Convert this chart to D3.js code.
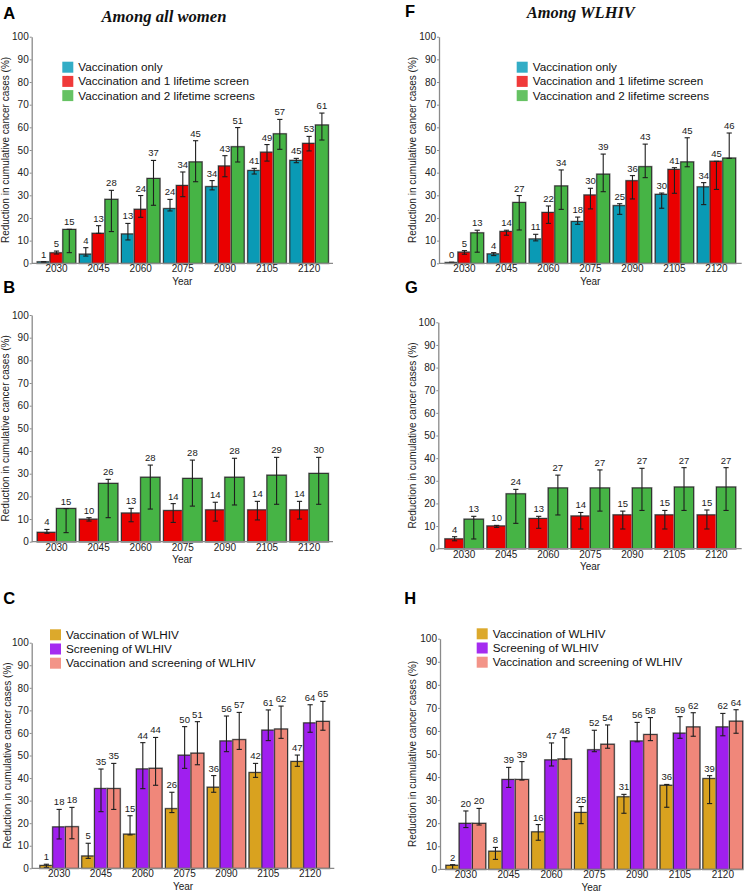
<!DOCTYPE html>
<html>
<head>
<meta charset="utf-8">
<script src="https://cdn.jsdelivr.net/npm/d3@7"></script>
<style>
  body { margin: 0; background: #fff; }
  svg { display: block; }
</style>
</head>
<body>
<svg id="chart" width="750" height="892"></svg>
<script>
// ---------------- DATA ----------------
const years = ["2030", "2045", "2060", "2075", "2090", "2105", "2120"];
const yTickValues = [0, 10, 20, 30, 40, 50, 60, 70, 80, 90, 100];

const titleAll = "Among all women";
const titleHIV = "Among WLHIV";
const legendScreens = ["Vaccination only", "Vaccination and 1 lifetime screen", "Vaccination and 2 lifetime screens"];
const legendWLHIV = ["Vaccination of WLHIV", "Screening of WLHIV", "Vaccination and screening of WLHIV"];

// Panel A: among all women
const aVacc     = [0.6, 4.0, 12.9, 24.1, 33.8, 40.9, 45.4];
const aVaccLo   = [0.4, 3.2, 10.3, 23.1, 32.4, 39.4, 44.4];
const aVaccHi   = [0.7, 6.9, 17.6, 28.2, 36.5, 41.9, 46.3];
const aScr1     = [4.6, 13.2, 23.8, 34.3, 42.9, 49.0, 52.9];
const aScr1Lo   = [4.1, 13.2, 20.3, 29.4, 38.2, 45.1, 49.6];
const aScr1Hi   = [5.4, 16.6, 29.9, 40.3, 47.5, 52.4, 56.0];
const aScr2     = [14.9, 28.2, 37.4, 44.7, 51.4, 57.1, 61.0];
const aScr2Lo   = [4.7, 14.0, 25.6, 36.0, 44.7, 50.3, 54.4];
const aScr2Hi   = [15.0, 32.2, 45.4, 54.1, 59.9, 63.5, 66.3];

// Panel F: among WLHIV
const fVacc     = [0.3, 4.1, 10.7, 18.4, 25.4, 30.4, 33.7];
const fVaccLo   = [0.2, 3.4, 9.9, 17.2, 21.6, 24.3, 25.9];
const fVaccHi   = [0.5, 4.7, 12.8, 20.4, 26.3, 31.0, 35.6];
const fScr1     = [4.9, 14.0, 22.4, 30.1, 36.4, 41.4, 45.0];
const fScr1Lo   = [4.0, 12.4, 17.6, 24.0, 28.4, 30.9, 32.6];
const fScr1Hi   = [5.6, 14.6, 25.3, 33.1, 38.7, 42.2, 45.0];
const fScr2     = [13.4, 26.8, 34.1, 39.3, 42.6, 44.7, 46.4];
const fScr2Lo   = [4.9, 14.7, 23.8, 31.6, 37.8, 42.6, 46.3];
const fScr2Hi   = [14.6, 29.9, 41.2, 48.2, 52.6, 55.4, 57.5];

// Panel B: among all women (screening added)
const bScr1     = [4.1, 9.9, 12.6, 13.7, 14.0, 14.0, 14.0];
const bScr1Lo   = [3.7, 9.1, 8.8, 8.5, 9.1, 9.6, 10.0];
const bScr1Hi   = [5.4, 10.6, 14.7, 16.8, 17.4, 17.8, 17.8];
const bScr2     = [14.6, 25.7, 28.4, 27.9, 28.4, 29.3, 30.1];
const bScr2Lo   = [4.0, 10.6, 14.4, 15.7, 16.2, 16.5, 16.5];
const bScr2Hi   = [14.6, 27.5, 33.8, 36.0, 36.8, 37.2, 37.2];

// Panel G: among WLHIV (screening added)
const gScr1     = [4.3, 10.0, 13.3, 14.4, 14.9, 14.9, 14.9];
const gScr1Lo   = [3.5, 9.4, 9.0, 8.7, 8.7, 8.7, 8.7];
const gScr1Hi   = [5.3, 10.3, 14.3, 16.0, 16.6, 16.9, 17.1];
const gScr2     = [13.0, 24.2, 26.8, 26.8, 26.8, 27.2, 27.2];
const gScr2Lo   = [4.3, 11.2, 14.9, 16.6, 16.9, 16.9, 16.9];
const gScr2Hi   = [14.3, 26.2, 32.5, 34.8, 35.5, 35.8, 35.8];

// Panel C: among all women, WLHIV-targeted interventions
const cVacc     = [1.2, 5.4, 15.1, 26.4, 35.9, 42.4, 47.3];
const cVaccLo   = [0.4, 4.4, 14.8, 24.7, 33.7, 40.3, 45.2];
const cVaccHi   = [1.8, 11.1, 23.3, 33.7, 41.1, 46.5, 50.2];
const cScr      = [18.3, 35.3, 44.0, 50.1, 56.4, 61.2, 64.4];
const cScrLo    = [13.0, 25.1, 35.3, 44.3, 51.7, 56.6, 60.3];
const cScrHi    = [26.1, 44.0, 55.7, 62.8, 67.5, 70.2, 72.5];
const cBoth     = [18.4, 35.3, 44.3, 51.0, 57.0, 61.7, 65.1];
const cBothLo   = [13.1, 26.1, 36.8, 45.9, 52.7, 57.6, 61.2];
const cBothHi   = [27.0, 46.5, 58.0, 65.0, 69.1, 71.9, 74.0];

// Panel H: among WLHIV, WLHIV-targeted interventions
const hVacc     = [1.7, 7.8, 16.2, 24.6, 31.4, 36.4, 39.3];
const hVaccLo   = [0.0, 4.3, 12.6, 19.8, 24.3, 26.9, 28.5];
const hVaccHi   = [2.0, 9.5, 19.4, 27.2, 32.5, 36.8, 40.6];
const hScr      = [19.9, 38.9, 47.4, 51.8, 55.6, 59.0, 61.7];
const hScrLo    = [18.1, 35.5, 44.8, 51.0, 55.3, 56.8, 57.9];
const hScrHi    = [25.3, 44.2, 54.8, 60.3, 63.7, 66.2, 67.6];
const hBoth     = [19.9, 38.9, 47.8, 54.2, 58.4, 61.7, 64.2];
const hBothLo   = [19.2, 38.7, 47.7, 52.5, 55.8, 57.7, 59.0];
const hBothHi   = [26.4, 46.7, 57.1, 62.6, 65.8, 67.9, 69.2];

// ---------------- STYLE ----------------
const col = {
  cyan: "#0a9ab5", red: "#ea0000", green: "#46b445",
  gold: "#d9a21f", purple: "#a01fef", salmon: "#f0877a"
};
const legCol = {
  cyan: "#33adc6", red: "#f03a3a", green: "#66c263",
  gold: "#dca92c", purple: "#a52cf0", salmon: "#f39488"
};
const SANS = "'Liberation Sans', Arial, Helvetica, sans-serif";
const SERIF = "'Liberation Serif', 'Times New Roman', serif";

// ---------------- PANELS ----------------
const panels = [
  { letter: "A", lx: 3.3, ly: 19, title: titleAll, tx: 164, ty: 21.5, tlen: 125,
    L: 31.7, r0: 35.45, r1: 330.15, right: 333, y100: 36.7, y0: 263.3, pi: 0.088, ytx: 9,
    legend: { x: 62.3, y: 61.7, labels: legendScreens, keys: ["cyan", "red", "green"] },
    series: [
      { key: "cyan", v: aVacc, lo: aVaccLo, hi: aVaccHi },
      { key: "red", v: aScr1, lo: aScr1Lo, hi: aScr1Hi },
      { key: "green", v: aScr2, lo: aScr2Lo, hi: aScr2Hi } ] },
  { letter: "F", lx: 405, ly: 16.7, title: titleHIV, tx: 580.8, ty: 17.5, tlen: 108,
    L: 439, r0: 443.45, r1: 737.45, right: 741.7, y100: 36.7, y0: 263.3, pi: 0.088, ytx: 416,
    legend: { x: 516.7, y: 61.7, labels: legendScreens, keys: ["cyan", "red", "green"] },
    series: [
      { key: "cyan", v: fVacc, lo: fVaccLo, hi: fVaccHi },
      { key: "red", v: fScr1, lo: fScr1Lo, hi: fScr1Hi },
      { key: "green", v: fScr2, lo: fScr2Lo, hi: fScr2Hi } ] },
  { letter: "B", lx: 3.3, ly: 292.5,
    L: 31.7, r0: 35.45, r1: 330.15, right: 333, y100: 315, y0: 541.7, pi: 0.088, ytx: 9,
    series: [
      { key: "red", v: bScr1, lo: bScr1Lo, hi: bScr1Hi },
      { key: "green", v: bScr2, lo: bScr2Lo, hi: bScr2Hi } ] },
  { letter: "G", lx: 405, ly: 292.5,
    L: 438.3, r0: 443.15, r1: 737.5, right: 741.7, y100: 322.3, y0: 548.7, pi: 0.088, ytx: 416,
    series: [
      { key: "red", v: gScr1, lo: gScr1Lo, hi: gScr1Hi },
      { key: "green", v: gScr2, lo: gScr2Lo, hi: gScr2Hi } ] },
  { letter: "C", lx: 3.3, ly: 604,
    L: 31.7, r0: 38.24, r1: 331.04, right: 334.3, y100: 642.7, y0: 868.3, pi: 0.084, ytx: 11,
    legend: { x: 50, y: 629.3, labels: legendWLHIV, keys: ["gold", "purple", "salmon"] },
    series: [
      { key: "gold", v: cVacc, lo: cVaccLo, hi: cVaccHi },
      { key: "purple", v: cScr, lo: cScrLo, hi: cScrHi },
      { key: "salmon", v: cBoth, lo: cBothLo, hi: cBothHi } ] },
  { letter: "H", lx: 404.3, ly: 604,
    L: 440, r0: 444.44, r1: 744.24, right: 743, y100: 638.7, y0: 869.3, pi: 0.073, ytx: 416.4,
    legend: { x: 476.7, y: 628.3, labels: legendWLHIV, keys: ["gold", "purple", "salmon"] },
    series: [
      { key: "gold", v: hVacc, lo: hVaccLo, hi: hVaccHi },
      { key: "purple", v: hScr, lo: hScrLo, hi: hScrHi },
      { key: "salmon", v: hBoth, lo: hBothLo, hi: hBothHi } ] }
];

const svg = d3.select("#chart");
svg.append("rect").attr("width", 750).attr("height", 892).attr("fill", "#fff");

function drawPanel(p) {
  const g = svg.append("g");
  const y = d3.scaleLinear().domain([0, 100]).range([p.y0, p.y100]);
  const x0 = d3.scaleBand().domain(years).range([p.r0, p.r1])
    .paddingInner(p.pi).paddingOuter(p.pi / 2);
  const keys = p.series.map(s => s.key);
  const x1 = d3.scaleBand().domain(keys).range([0, x0.bandwidth()]);

  // panel letter
  g.append("text").attr("x", p.lx).attr("y", p.ly)
    .attr("font-family", SANS).attr("font-weight", "bold").attr("font-size", 16.5)
    .attr("fill", "#000").text(p.letter);

  // title
  if (p.title) {
    g.append("text").attr("x", p.tx).attr("y", p.ty)
      .attr("text-anchor", "middle")
      .attr("font-family", SERIF).attr("font-weight", "bold").attr("font-style", "italic")
      .attr("font-size", 16).attr("textLength", p.tlen).attr("lengthAdjust", "spacingAndGlyphs")
      .attr("fill", "#111").text(p.title);
  }

  // y axis
  const ya = g.append("g").attr("transform", `translate(${p.L},0)`)
    .call(d3.axisLeft(y).tickValues(yTickValues).tickSize(2).tickSizeOuter(0).tickPadding(1));
  ya.select(".domain").attr("stroke", "#8a8a8a").attr("stroke-width", 1.3);
  ya.selectAll(".tick line").attr("stroke", "#8a8a8a").attr("stroke-width", 1);
  ya.selectAll(".tick text").attr("font-family", SANS).attr("font-size", 10).attr("fill", "#222");

  // y title
  g.append("text")
    .attr("transform", `translate(${p.ytx},${(p.y0 + p.y100) / 2}) rotate(-90)`)
    .attr("text-anchor", "middle")
    .attr("font-family", SANS).attr("font-size", 10).attr("fill", "#222")
    .text("Reduction in cumulative cancer cases (%)");

  // bars
  p.series.forEach(s => {
    const sg = g.append("g");
    const rows = years.map((yr, i) => ({ yr, v: s.v[i], lo: s.lo[i], hi: s.hi[i] }));
    sg.selectAll("rect.halo").data(rows).join("rect").attr("class", "halo")
      .attr("x", d => x0(d.yr) + x1(s.key))
      .attr("y", d => y(d.v))
      .attr("width", x1.bandwidth())
      .attr("height", d => y(0) - y(d.v))
      .attr("fill", col[s.key])
      .attr("stroke", "#9a9a9a").attr("stroke-width", 2);
    sg.selectAll("rect.bar").data(rows).join("rect").attr("class", "bar")
      .attr("x", d => x0(d.yr) + x1(s.key))
      .attr("y", d => y(d.v))
      .attr("width", x1.bandwidth())
      .attr("height", d => y(0) - y(d.v))
      .attr("fill", col[s.key])
      .attr("stroke", "#2a2a2a").attr("stroke-width", 0.9);
  });

  // error bars and value labels
  p.series.forEach(s => {
    const eg = g.append("g");
    const rows = years.map((yr, i) => ({ yr, v: s.v[i], lo: s.lo[i], hi: s.hi[i] }));
    const cx = d => x0(d.yr) + x1(s.key) + x1.bandwidth() / 2;
    eg.selectAll("line.ev").data(rows).join("line").attr("class", "ev")
      .attr("x1", cx).attr("x2", cx)
      .attr("y1", d => y(d.lo)).attr("y2", d => y(d.hi))
      .attr("stroke", "#1e1e1e").attr("stroke-width", 1.1);
    ["lo", "hi"].forEach(k => {
      eg.selectAll("line.cap" + k).data(rows).join("line").attr("class", "cap" + k)
        .attr("x1", d => cx(d) - 2.6).attr("x2", d => cx(d) + 2.6)
        .attr("y1", d => y(d[k])).attr("y2", d => y(d[k]))
        .attr("stroke", "#1e1e1e").attr("stroke-width", 1.1);
    });
    eg.selectAll("text.val").data(rows).join("text").attr("class", "val")
      .attr("x", cx)
      .attr("y", d => y(Math.max(d.hi, d.v)) - 4)
      .attr("text-anchor", "middle")
      .attr("font-family", SANS).attr("font-size", 9.5).attr("fill", "#1a1a1a")
      .text(d => Math.round(d.v));
  });

  // x axis
  g.append("line").attr("x1", p.L).attr("x2", p.right).attr("y1", p.y0).attr("y2", p.y0)
    .attr("stroke", "#8a8a8a").attr("stroke-width", 1.3);
  const xa = g.append("g").attr("transform", `translate(0,${p.y0})`)
    .call(d3.axisBottom(x0).tickSize(2).tickSizeOuter(0).tickPadding(0));
  xa.select(".domain").remove();
  xa.selectAll(".tick line").attr("stroke", "#8a8a8a").attr("stroke-width", 1);
  xa.selectAll(".tick text").attr("font-family", SANS).attr("font-size", 10).attr("fill", "#222");

  g.append("text").attr("x", (p.L + p.right) / 2).attr("y", p.y0 + 21.5)
    .attr("text-anchor", "middle")
    .attr("font-family", SANS).attr("font-size", 10).attr("fill", "#222").text("Year");

  // legend
  if (p.legend) {
    const lg = g.append("g").attr("transform", `translate(${p.legend.x},${p.legend.y})`);
    p.legend.labels.forEach((lab, i) => {
      const row = lg.append("g").attr("transform", `translate(0,${i * 14.2})`);
      row.append("rect").attr("width", 11).attr("height", 11)
        .attr("fill", legCol[p.legend.keys[i]]);
      row.append("text").attr("x", 16).attr("y", 9.5)
        .attr("font-family", SANS).attr("font-size", 11.7).attr("fill", "#111").text(lab);
    });
  }
}

panels.forEach(drawPanel);
</script>
</body>
</html>
